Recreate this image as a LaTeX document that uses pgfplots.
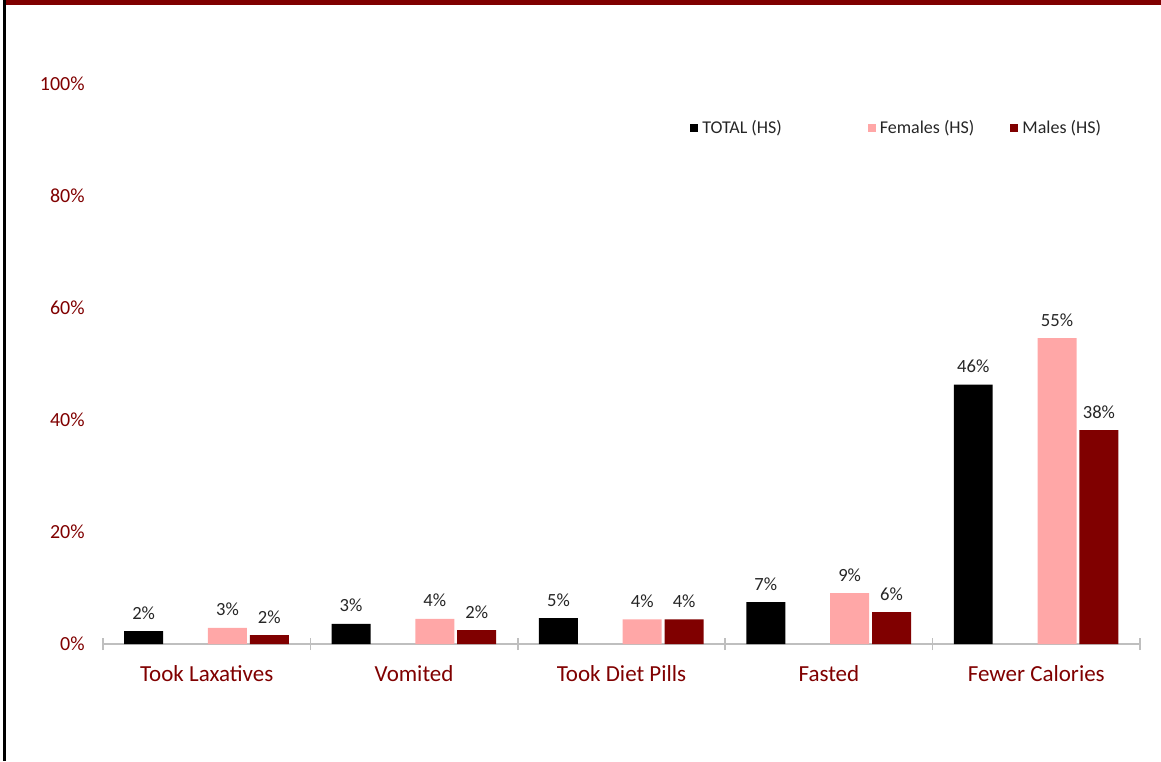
\documentclass[border=0pt]{standalone}
\usepackage{fontspec}
\setmainfont{Carlito}
\usepackage{pgfplots}
\pgfplotsset{compat=1.18}
\definecolor{maroon}{HTML}{800000}
\definecolor{rose}{HTML}{FFA7A7}
\definecolor{axisgray}{HTML}{BFBFBF}
\definecolor{labeltext}{HTML}{262626}

\begin{document}
\begin{tikzpicture}
\useasboundingbox (0,0) rectangle (580.5pt,380.5pt);
\fill[maroon] (3pt,378.2pt) rectangle (580.5pt,380.5pt);
\fill[black] (1.6pt,0pt) rectangle (3pt,380.5pt);
\begin{axis}[
    at={(51.5pt,58.5pt)}, anchor=south west,
    scale only axis, width=518.5pt, height=280pt,
    xmin=-0.5, xmax=4.5, ymin=0, ymax=100,
    ybar,
    axis lines*=left,
    x axis line style={axisgray, line width=0.8pt},
    y axis line style={draw=none},
    xtick={0,...,4},
    xticklabels={Took Laxatives, Vomited, Took Diet Pills, Fasted, Fewer Calories},
    major tick length=0pt,
    minor xtick={-0.5,0.5,...,4.5},
    minor tick length=6pt,
    tick align=center,
    minor x tick style={axisgray, line width=0.8pt},
    xticklabel style={anchor=base, yshift=-18.5pt, inner sep=0pt,
        font=\fontsize{11.5}{13}\selectfont, text=maroon},
    ytick={0,20,...,100},
    yticklabels={0\%,20\%,40\%,60\%,80\%,100\%},
    yticklabel style={anchor=east, inner sep=0pt, xshift=-9pt,
        font=\fontsize{10}{12}\selectfont, text=maroon},
    bar width=0.188,
    point meta=explicit symbolic,
    nodes near coords,
    every node near coord/.append style={anchor=base, inner sep=0pt, yshift=6pt,
        font=\fontsize{9.3}{11}\selectfont, text=labeltext},
    legend columns=3,
    legend style={at={(0.566,0.921)}, anchor=west, draw=none, fill=none,
        inner sep=0pt, font=\fontsize{9}{11}\selectfont, text=labeltext,
        /tikz/column 2/.style={column sep=41pt},
        /tikz/column 4/.style={column sep=16pt}},
    legend image code/.code={\fill[#1] (0pt,-2pt) rectangle (4pt,2pt);},
]
% TOTAL (HS)
\addplot[bar shift=-0.304, fill=black, draw=none] coordinates {
    (0,2.3) [2\%] (1,3.6) [3\%] (2,4.6) [5\%] (3,7.5) [7\%] (4,46.3) [46\%]
};
% Females (HS)
\addplot[bar shift=0.1, fill=rose, draw=none] coordinates {
    (0,2.9) [3\%] (1,4.5) [4\%] (2,4.4) [4\%] (3,9.1) [9\%] (4,54.6) [55\%]
};
% Males (HS)
\addplot[bar shift=0.302, fill=maroon, draw=none] coordinates {
    (0,1.6) [2\%] (1,2.5) [2\%] (2,4.4) [4\%] (3,5.7) [6\%] (4,38.2) [38\%]
};
\legend{TOTAL (HS), Females (HS), Males (HS)}
\end{axis}
\end{tikzpicture}
\end{document}
